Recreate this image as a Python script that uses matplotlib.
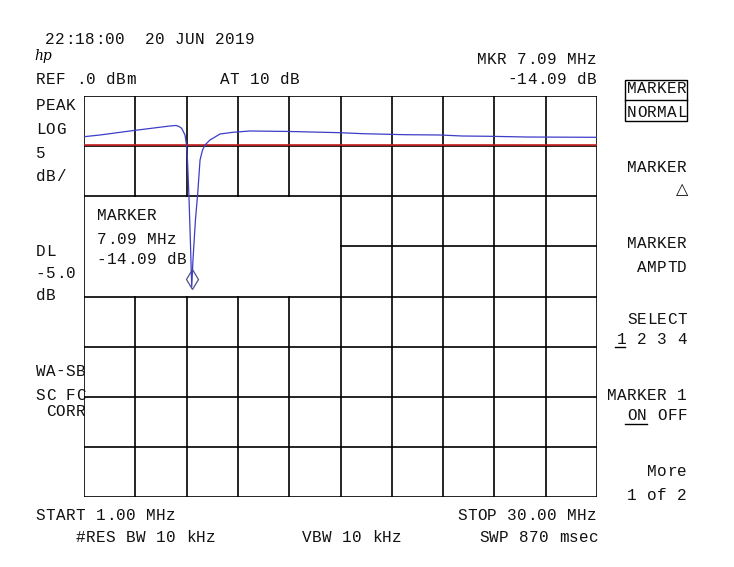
# %% Imports
import matplotlib
matplotlib.use('Agg')
import matplotlib.pyplot as plt
import matplotlib.transforms as mtransforms
from matplotlib.lines import Line2D
from matplotlib.patches import Rectangle

# %% Data
freq_mhz = [1.00, 1.90, 3.60, 4.73, 5.86, 6.20, 6.37, 6.52, 6.71, 6.78, 6.85,
            6.94, 7.02, 7.09, 7.16, 7.30, 7.43, 7.56, 7.70, 7.84, 8.12, 8.69,
            9.42, 10.38, 12.65, 15.47, 16.77, 19.15, 21.12, 22.37, 23.95,
            26.04, 30.00]
level_db = [-4.06, -3.89, -3.49, -3.24, -2.99, -2.94, -3.04, -3.22, -3.89,
            -4.72, -6.38, -10.37, -14.86, -19.05, -16.36, -12.37, -9.68,
            -6.38, -5.39, -4.89, -4.39, -3.79, -3.62, -3.49, -3.54, -3.66,
            -3.76, -3.86, -3.89, -3.99, -4.02, -4.09, -4.12]

start_mhz, stop_mhz = 1.0, 30.0
ref_db, db_per_div = 0.0, 5.0
display_line_db = -5.0
marker_freq = 7.09
marker_plot_db = -18.25

n_xdiv, n_ydiv = 10, 8

# %% Figure and axes (pixel layout of the screen dump)
W, H = 734, 567
fig = plt.figure(figsize=(W / 100, H / 100), dpi=100)
ax = fig.add_axes([84 / W, 1 - 497 / H, 513 / W, 401 / H])
ax.set_xlim(start_mhz, stop_mhz)
ax.set_ylim(ref_db - n_ydiv * db_per_div, ref_db)
ax.axis('off')

xstep = (stop_mhz - start_mhz) / n_xdiv
grid_kw = dict(color='black', lw=1.2, solid_capstyle='projecting', zorder=1)

# marker readout box blanks part of the graticule
box_cols, box_rows = (0, 5), (2, 4)
box_top = ref_db - box_rows[0] * db_per_div
box_bot = ref_db - box_rows[1] * db_per_div
box_right = start_mhz + box_cols[1] * xstep

for i in range(n_xdiv + 1):
    x = start_mhz + i * xstep
    if box_cols[0] < i < box_cols[1]:
        ax.plot([x, x], [ref_db, box_top], **grid_kw)
        ax.plot([x, x], [box_bot, ref_db - n_ydiv * db_per_div], **grid_kw)
    else:
        ax.plot([x, x], [ref_db, ref_db - n_ydiv * db_per_div], **grid_kw)

for j in range(n_ydiv + 1):
    y = ref_db - j * db_per_div
    if box_rows[0] < j < box_rows[1]:
        ax.plot([box_right, stop_mhz], [y, y], **grid_kw)
    else:
        ax.plot([start_mhz, stop_mhz], [y, y], **grid_kw)

# display line (red, sits just above the graticule line)
up = mtransforms.offset_copy(ax.transData, fig=fig, x=0, y=1.2, units='dots')
ax.plot([start_mhz, stop_mhz], [display_line_db, display_line_db],
        color='#c81e1e', lw=1.2, transform=up, zorder=2)

# trace
ax.plot(freq_mhz, level_db, color='#3c3cc8', lw=0.9, zorder=3)

# marker diamond
ax.plot([marker_freq], [marker_plot_db], marker='d', ms=10, mfc='none',
        mec='#50508c', mew=0.9, zorder=4, clip_on=False)

# %% Annotations (fixed 10 px character cells like the HP screen font)
mono = ['Liberation Mono', 'DejaVu Sans']
FS = 11.5
CELL = 10.0


def px_text(x, y, s, ha='left'):
    if ha == 'right':
        x0 = x - CELL * len(s)
    else:
        x0 = x + 0.5
    for k, ch in enumerate(s):
        if ch == ' ':
            continue
        cx = x0 + CELL * k + CELL / 2 - 1
        fig.text(cx / W, 1 - y / H, ch, ha='center', va='center',
                 family=mono, fontsize=FS, color='#111111')


def px_line(x0, y0, x1, y1, lw=1.0):
    fig.add_artist(Line2D([x0 / W, x1 / W], [1 - y0 / H, 1 - y1 / H],
                          color='black', lw=lw, transform=fig.transFigure))


px_text(45, 40, '22:18:00  20 JUN 2019')
fig.text(34 / W, 1 - 56 / H, 'hp', ha='left', va='center', family='DejaVu Serif',
         style='italic', fontsize=10, color='black')
px_text(598, 60, 'MKR 7.09 MHz', ha='right')
px_text(36, 79, 'REF .0 dBm')
px_text(220, 79, 'AT 10 dB')
px_text(598, 79, '-14.09 dB', ha='right')

# left annotations
px_text(36, 106, 'PEAK')
px_text(36, 130, 'LOG')
px_text(36, 154, '5')
px_text(36, 177, 'dB/')
px_text(36, 251, 'DL')
px_text(36, 274, '-5.0')
px_text(36, 296, 'dB')
px_text(36, 371, 'WA-SB')
px_text(36, 395, 'SC FC')
px_text(36, 412, ' CORR')

# marker readout
px_text(97, 216, 'MARKER')
px_text(97, 240, '7.09 MHz')
px_text(97, 260, '-14.09 dB')

# softkeys
px_text(688, 89, 'MARKER', ha='right')
px_text(688, 113, 'NORMAL', ha='right')
fig.add_artist(Rectangle((625 / W, 1 - 121 / H), 62 / W, 41 / H, fill=False,
                         ec='black', lw=1.0, transform=fig.transFigure))
px_line(625, 100, 687, 100)
px_text(688, 167, 'MARKER', ha='right')
px_text(688, 190, '\u25b3', ha='right')
px_text(688, 243, 'MARKER', ha='right')
px_text(688, 267, 'AMPTD', ha='right')
px_text(688, 320, 'SELECT', ha='right')
px_text(688, 340, '1 2 3 4', ha='right')
px_line(615, 347, 625, 347)
px_text(688, 395, 'MARKER 1', ha='right')
px_text(688, 416, 'ON OFF', ha='right')
px_line(625, 424, 647, 424)
px_text(688, 472, 'More', ha='right')
px_text(688, 496, '1 of 2', ha='right')

# bottom annotations
px_text(36, 516, 'START 1.00 MHz')
px_text(598, 516, 'STOP 30.00 MHz', ha='right')
px_text(76, 537, '#RES BW 10 kHz')
px_text(302, 537, 'VBW 10 kHz')
px_text(600, 537, 'SWP 870 msec', ha='right')

fig.savefig('out.png', dpi=100, facecolor='white')
